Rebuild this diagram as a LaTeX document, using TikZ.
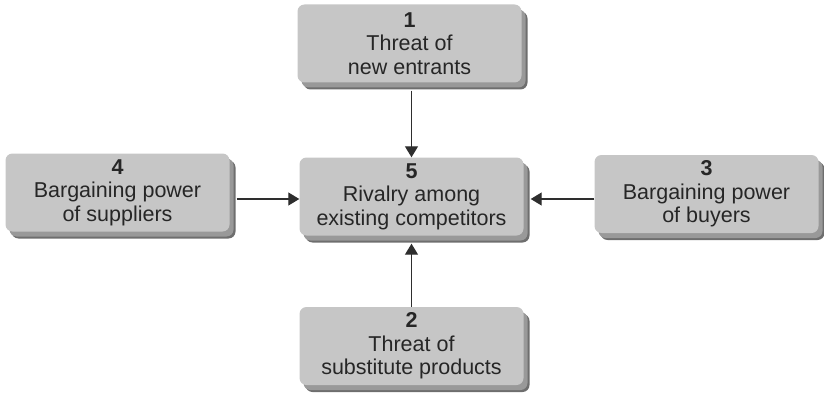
\documentclass[tikz,border=0pt]{standalone}
\usepackage{fontspec}
\setmainfont{Liberation Sans}
\usetikzlibrary{arrows.meta,shadows}
\definecolor{boxface}{HTML}{C6C6C6}
\definecolor{boxedge}{HTML}{6E6E6E}
\definecolor{linegray}{HTML}{2E2E2E}
\begin{document}
\begin{tikzpicture}[x=1pt,y=-1pt,
  force/.style={
    rounded corners=7pt, fill=boxface, align=center,
    minimum width=224pt, minimum height=78pt, inner sep=0pt,
    font=\fontsize{21.5}{23.5}\selectfont, text=black!85,
    general shadow={fill=boxedge, shadow xshift=6pt, shadow yshift=-7pt},
    general shadow={fill=black!40, shadow xshift=4pt, shadow yshift=-5pt}},
  arr/.style={draw=linegray, line width=1.3pt,
    -{Triangle[width=13pt,length=11pt]}}]
  \useasboundingbox (0,0) rectangle (824,393);

  \node[force] (b1) at (409.5,43.5) {\textbf{1}\\Threat of\\new entrants};
  \node[force] (b4) at (117.5,192.5) {\textbf{4}\\Bargaining power\\of suppliers};
  \node[force] (b5) at (411.5,196.5) {\textbf{5}\\Rivalry among\\existing competitors};
  \node[force] (b3) at (706.5,194) {\textbf{3}\\Bargaining power\\of buyers};
  \node[force] (b2) at (411.5,346) {\textbf{2}\\Threat of\\substitute products};

  \coordinate (row) at (0,199);
  \draw[arr] ([yshift=-8pt]b5.north |- b1.south) -- (b5.north);
  \draw[arr] ([xshift=7pt]b4.east |- row) -- (b5.west |- row);
  \draw[arr] (b3.west |- row) -- ([xshift=7pt]b5.east |- row);
  \draw[arr] (b2.north) -- ([yshift=-8pt]b5.south);
\end{tikzpicture}
\end{document}
